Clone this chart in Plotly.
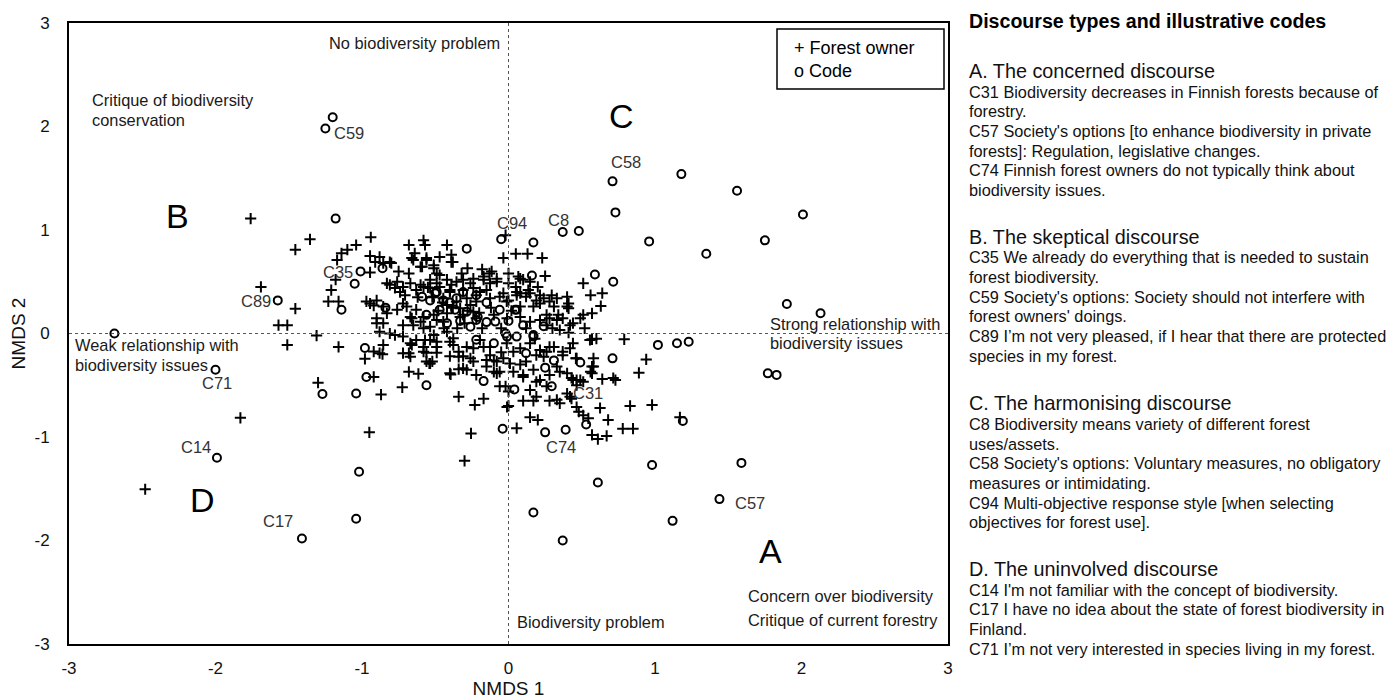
import plotly.graph_objects as go

# ---------------- data ----------------
axis_ticks = [-3, -2, -1, 0, 1, 2, 3]

# forest owners (+), NMDS1 / NMDS2
owners_periphery = [
    (-2.48, -1.505), (-1.83, -0.815), (-1.76, 1.11), (-1.69, 0.45), (-1.57, 0.08), (-1.51, 0.08),
    (-1.51, -0.11), (-1.455, 0.81), (-1.455, 0.24), (-1.355, 0.91), (-1.31, -0.02), (-1.30, -0.475),
    (-1.23, 0.31), (-1.16, 0.31), (-1.21, 0.42), (-1.18, 0.52), (-1.17, 0.71), (-1.14, 0.775),
    (-1.10, 0.81), (-1.04, 0.855), (-0.94, 0.93), (-1.16, -0.13), (-0.945, 0.75), (-0.88, 0.74),
    (-0.80, 0.68), (-0.945, 0.59), (-0.97, 0.31), (-0.945, 0.29), (-0.92, 0.27), (-0.95, -0.955),
    (-0.87, -0.59), (-0.98, -0.245), (-0.92, -0.175), (-0.86, -0.20), (-0.855, -0.11), (-0.92, -0.42),
    (-0.725, -0.52), (-0.68, -0.37), (-0.615, -0.39), (-0.54, -0.29), (-0.68, -0.19), (-0.56, -0.185),
    (-0.49, -0.185), (-0.66, -0.11), (-0.34, -0.61), (-0.23, -0.69), (-0.17, -0.63), (-0.256, -0.965),
    (-0.30, -1.23), (-0.395, -0.395), (-0.34, -0.345), (-0.285, -0.35), (-0.22, -0.40), (-0.34, -0.225),
    (-0.31, -0.22), (-0.26, -0.24), (-0.15, -0.256), (-0.10, -0.26), (-0.10, -0.37), (-0.06, -0.37),
    (-0.01, -0.71), (-0.02, 0.95),
    (0.05, 0.77), (0.13, 0.77), (0.23, 0.73), (-0.035, 0.73),
    (0.51, 0.485), (0.56, 0.37), (0.64, 0.39), (0.51, 0.18), (0.57, 0.195), (0.63, 0.265), (0.44, 0.10),
    (0.40, 0.355), (0.40, 0.26),
    (0.57, -0.056), (0.79, -0.056), (0.94, -0.25), (0.89, -0.38), (0.64, -0.44), (0.73, -0.45),
    (0.83, -0.70), (0.98, -0.69), (0.625, -0.72), (0.68, -0.835), (1.17, -0.81), (0.78, -0.92),
    (0.85, -0.92), (0.57, -0.98), (0.61, -1.02), (0.67, -0.99), (0.48, -0.755), (0.545, -0.82),
    (0.51, -0.79), (0.056, -0.915), (0.147, -0.81), (0.20, -0.835), (0.10, -0.65), (0.17, -0.65),
    (0.0, -0.70), (0.28, -0.65), (0.33, -0.64), (0.42, -0.61), (0.46, -0.24), (0.58, -0.24),
    (0.57, -0.32), (0.44, -0.45), (0.49, -0.45), (0.56, -0.37), (0.60, -0.05), (0.715, -0.43),
    (0.40, -0.58), (0.43, -0.63),
]

owners_core_upper = [
    (-0.68, 0.855), (-0.58, 0.90), (-0.57, 0.855), (-0.42, 0.855), (-0.64, 0.775), (-0.66, 0.73),
    (-0.56, 0.73), (-0.47, 0.74), (-0.39, 0.76), (-0.38, 0.69), (-0.59, 0.645), (-0.51, 0.63),
    (-0.49, 0.58), (-0.28, 0.63), (-0.17, 0.55), (-0.13, 0.58), (-0.115, 0.60), (-0.126, 0.485),
    (-0.08, 0.50), (0.0, 0.58), (0.0, 0.485), (0.067, 0.55), (0.10, 0.52), (0.25, 0.555),
    (0.295, 0.37), (0.33, 0.34), (0.41, 0.29), (0.215, 0.29), (0.147, 0.39), (0.08, 0.39),
    (-0.855, 0.68), (-0.81, 0.69), (-0.83, 0.485), (-0.76, 0.50), (-0.72, 0.45), (-0.67, 0.485),
    (-0.63, 0.42), (-0.58, 0.45), (-0.535, 0.52), (-0.49, 0.485), (-0.90, 0.32), (-0.855, 0.26),
    (-0.83, 0.195), (-0.76, 0.23), (-0.72, 0.29), (-0.67, 0.16), (-0.63, 0.23), (-0.535, 0.066),
    (-0.49, 0.13), (-0.855, 0.10), (-0.90, 0.10),
    (-0.91, 0.69), (-0.65, 0.71), (-0.60, 0.645), (-0.56, 0.71), (-0.51, 0.66), (-0.47, 0.565),
    (-0.39, 0.69), (-0.74, 0.40), (-0.706, 0.37), (-0.775, 0.44), (-0.81, 0.47), (-0.535, 0.44),
    (-0.42, 0.52), (-0.39, 0.47), (-0.355, 0.50), (-0.31, 0.52), (-0.26, 0.485), (-0.24, 0.44),
    (-0.695, 0.26), (-0.66, 0.147), (-0.65, 0.08), (-0.60, 0.114), (-0.58, 0.05), (-0.445, 0.114),
    (-0.42, 0.017), (-0.90, 0.147), (-0.88, 0.017), (-0.72, 0.08),
    (-0.445, 0.34), (-0.42, 0.275), (-0.40, 0.40), (-0.355, 0.31), (-0.33, 0.243), (-0.31, 0.18),
    (-0.285, 0.34), (-0.26, 0.275), (-0.24, 0.21), (-0.22, 0.31), (-0.195, 0.40),
    (-0.24, 0.53), (-0.17, 0.52), (-0.08, 0.53), (0.08, 0.53), (0.147, 0.50), (0.056, 0.40),
    (0.135, 0.42), (0.215, 0.37), (0.41, 0.243), (0.08, 0.26), (0.17, 0.26), (-0.012, 0.31),
    (-0.126, 0.34), (-0.035, 0.39), (0.26, 0.18), (0.28, 0.147), (0.34, 0.18), (0.37, 0.147),
    (0.42, 0.08), (0.49, 0.147), (0.52, 0.05),
    (-0.60, 0.47), (-0.55, 0.445), (-0.47, 0.45), (-0.40, 0.42), (-0.31, 0.42), (-0.22, 0.37),
    (-0.15, 0.42), (-0.06, 0.355), (0.0, 0.32), (0.056, 0.37), (0.12, 0.355), (0.19, 0.32),
    (0.24, 0.34), (0.28, 0.31), (0.31, 0.26),
    (-0.58, 0.16), (-0.51, 0.18), (-0.42, 0.195), (-0.33, 0.16), (-0.22, 0.147), (-0.10, 0.18),
    (-0.01, 0.147), (0.08, 0.16), (0.147, 0.114), (0.215, 0.13), (0.26, 0.08), (0.33, 0.13),
    (0.35, 0.034), (0.41, 0.008),
    (-0.45, 0.30), (-0.38, 0.25), (-0.30, 0.10), (-0.18, 0.05), (-0.05, 0.05), (-0.12, 0.25),
    (-0.35, 0.05), (-0.28, 0.22), (-0.48, 0.22), (-0.20, 0.20), (0.02, 0.22), (0.12, 0.05),
    (0.05, 0.45), (-0.62, 0.35), (-0.68, 0.58), (-0.75, 0.60), (-0.32, 0.58), (-0.18, 0.62),
    (0.20, 0.45), (0.30, 0.05), (-0.44, 0.05), (-0.52, 0.35),
]

owners_core_lower = [
    (-0.57, -0.063), (-0.49, -0.13), (-0.40, -0.08), (-0.285, -0.13), (-0.195, -0.063),
    (-0.126, -0.13), (-0.012, -0.095), (0.08, -0.143), (0.147, -0.095), (0.215, -0.16),
    (0.28, -0.13), (0.37, -0.176), (0.44, -0.095), (0.556, -0.063),
    (-0.535, -0.29), (-0.40, -0.385), (-0.31, -0.336), (-0.15, -0.32), (-0.08, -0.385),
    (0.01, -0.29), (0.08, -0.30), (0.10, -0.42), (0.17, -0.35), (0.215, -0.45), (0.24, -0.224),
    (0.33, -0.32), (0.40, -0.385), (0.43, -0.43), (0.465, -0.45), (0.51, -0.466), (0.57, -0.385),
    (0.58, -0.32), (-0.06, -0.51), (0.0, -0.56), (0.147, -0.546), (0.19, -0.61), (0.26, -0.51),
    (0.35, -0.675), (0.465, -0.71),
    (-0.81, 0.0), (-0.72, -0.03), (-0.67, -0.095), (-0.63, -0.063), (-0.58, -0.13),
    (-0.535, -0.063), (-0.67, -0.224), (-0.72, -0.19), (-0.51, -0.015), (-0.49, -0.08),
    (-0.377, -0.046), (-0.775, -0.015), (-0.88, -0.19), (-0.58, -0.176), (-0.56, -0.27),
    (-0.52, -0.27), (-0.377, -0.11), (-0.34, -0.176), (-0.24, -0.27),
    (-0.24, -0.143), (-0.17, -0.13), (-0.126, -0.21), (-0.08, -0.27), (-0.035, -0.24),
    (0.033, -0.176), (0.12, -0.27), (0.19, -0.21), (0.26, -0.176), (0.31, -0.13), (0.37, -0.21),
    (0.42, -0.143), (0.465, -0.24), (0.033, -0.37), (0.10, -0.40), (0.19, -0.466), (0.28, -0.40),
    (0.35, -0.37), (0.465, -0.50), (-0.02, -0.51), (-0.05, -0.18), (-0.40, -0.22), (0.18, -0.05),
]

# codes (o)
code_points = [
    (-1.20, 2.09), (-1.25, 1.98), (-1.18, 1.11), (-0.285, 0.82), (-1.01, 0.60), (-0.86, 0.63),
    (-1.05, 0.48), (-1.14, 0.23), (-1.575, 0.32), (-2.69, 0.0), (-0.05, 0.91),
    (0.71, 1.47), (1.18, 1.54), (1.56, 1.38), (2.01, 1.15), (0.73, 1.17), (0.37, 0.98), (0.48, 0.99),
    (0.96, 0.89), (1.35, 0.77), (1.75, 0.90), (0.17, 0.88), (0.16, 0.56), (0.59, 0.57), (0.715, 0.50),
    (1.90, 0.285), (2.13, 0.195), (1.02, -0.11), (1.15, -0.095), (1.23, -0.08), (0.71, -0.24),
    (1.77, -0.385), (1.83, -0.40), (1.19, -0.845), (1.59, -1.25), (0.98, -1.27), (0.61, -1.44),
    (1.44, -1.60), (1.12, -1.81), (0.17, -1.73), (0.37, -2.00), (0.25, -0.955), (0.39, -0.93),
    (0.53, -0.88), (-0.04, -0.92), (0.49, -0.28), (0.04, -0.54), (0.31, -0.26), (0.25, -0.33),
    (0.295, -0.51), (0.12, -0.19), (-2.0, -0.35), (-1.99, -1.20), (-1.41, -1.98), (-1.04, -1.79),
    (-1.02, -1.335), (-1.27, -0.585), (-1.04, -0.58), (-0.97, -0.42), (-0.98, -0.14), (-0.56, -0.50),
    (-0.17, -0.46), (-0.22, -0.06), (-0.10, -0.095), (0.24, 0.07), (0.17, -0.03), (0.056, -0.03),
    (-0.02, 0.0), (0.056, 0.23), (-0.06, 0.23), (-0.15, 0.11), (-0.59, 0.355), (-0.50, 0.39),
    (-0.445, 0.32), (-0.84, 0.25), (-0.535, 0.32), (-0.49, 0.40), (-0.56, 0.18), (-0.47, 0.23),
    (-0.365, 0.23), (-0.355, 0.34), (-0.31, 0.40), (-0.285, 0.21), (-0.26, 0.065), (-0.22, 0.13),
    (-0.22, 0.37), (-0.21, 0.16), (-0.09, 0.115), (0.045, 0.23), (-0.01, -0.03), (0.17, -0.015),
    (-0.40, 0.30), (-0.33, 0.12), (-0.15, 0.30), (-0.42, 0.10), (0.0, 0.12), (0.10, 0.08),
]

code_labels = ["C59", "C94", "C8", "C58", "C35", "C89", "C71", "C14", "C17", "C74", "C31", "C57"]

quadrant_letters = ["A", "B", "C", "D"]

panel_title = "Discourse types and illustrative codes"
panel_sections = [
    ("A. The concerned discourse", [
        "C31 Biodiversity decreases in Finnish forests because of",
        "forestry.",
        "C57 Society's options [to enhance biodiversity in private",
        "forests]: Regulation, legislative changes.",
        "C74 Finnish forest owners do not typically think about",
        "biodiversity issues.",
    ]),
    ("B. The skeptical discourse", [
        "C35 We already do everything that is needed to sustain",
        "forest biodiversity.",
        "C59 Society's options: Society should not interfere with",
        "forest owners' doings.",
        "C89 I\u2019m not very pleased, if I hear that there are protected",
        "species in my forest.",
    ]),
    ("C. The harmonising discourse", [
        "C8 Biodiversity means variety of different forest",
        "uses/assets.",
        "C58 Society's options: Voluntary measures, no obligatory",
        "measures or intimidating.",
        "C94 Multi-objective response style [when selecting",
        "objectives for forest use].",
    ]),
    ("D. The uninvolved discourse", [
        "C14 I'm not familiar with the concept of biodiversity.",
        "C17 I have no idea about the state of forest biodiversity in",
        "Finland.",
        "C71 I\u2019m not very interested in species living in my forest.",
    ]),
]

# ---------------- layout geometry (pixels) ----------------
W, H = 1389, 699
L, R, T, B = 69, 948, 23, 644
FONT = "Liberation Sans, Arial, sans-serif"


def px(x):
    return (x - L) / (R - L)


def py(y):
    return (B - y) / (B - T)


owners = owners_periphery + owners_core_upper + owners_core_lower
owner_x = [p[0] for p in owners]
owner_y = [p[1] for p in owners]
code_x = [p[0] for p in code_points]
code_y = [p[1] for p in code_points]

fig = go.Figure()
fig.add_trace(go.Scatter(
    x=owner_x, y=owner_y, mode="markers", name="Forest owner",
    marker=dict(symbol="cross-thin", size=8, color="black",
                line=dict(width=2, color="black")),
))
fig.add_trace(go.Scatter(
    x=code_x, y=code_y, mode="markers", name="Code",
    marker=dict(symbol="circle-open", size=8, color="black",
                line=dict(width=2, color="black")),
))

ann = []


def text(x, y, s, size=16, xanchor="left", color="#1a1a1a", bold=False, yanchor="middle"):
    ann.append(dict(
        x=px(x), y=py(y), xref="paper", yref="paper", text=("<b>%s</b>" % s) if bold else s,
        showarrow=False, xanchor=xanchor, yanchor=yanchor,
        font=dict(family=FONT, size=size, color=color),
    ))


# code labels (pixel positions of label centres)
label_pos = {
    "C59": (349, 133), "C94": (512, 223), "C8": (558.5, 220), "C58": (626, 162),
    "C35": (338, 272), "C89": (256, 301), "C71": (217, 383), "C14": (196, 447),
    "C17": (277.5, 521), "C74": (560.5, 447), "C31": (588, 393), "C57": (750, 503),
}
for lab in code_labels:
    x, y = label_pos[lab]
    text(x, y, lab, size=16.5, xanchor="center", color="#333333")

# quadrant letters
letter_pos = {"A": (770, 551), "B": (177.5, 215.5), "C": (621.5, 115.5), "D": (202, 500)}
for let in quadrant_letters:
    x, y = letter_pos[let]
    text(x, y, let, size=34, xanchor="center", color="black")

# interpretive annotations
text(502, 43, "No biodiversity problem", xanchor="right", size=16.4)
text(90, 100, "Critique of biodiversity", size=16.4)
text(90, 120, "conservation", size=16.4)
text(73, 345, "Weak relationship with", size=16.4)
text(73, 364.5, "biodiversity issues", size=16.4)
text(768, 323.5, "Strong relationship with", size=16.4)
text(768, 343, "biodiversity issues", size=16.4)
text(515, 622, "Biodiversity problem", size=16.4)
text(746, 596, "Concern over biodiversity", size=16.4)
text(746, 620, "Critique of current forestry", size=16.4)

# legend
text(791.5, 48.5, "+ Forest owner", size=18, color="black")
text(791.5, 71, "o Code", size=18, color="black")

# right panel
PX = 967
text(PX, 21.5, panel_title, size=19.6, color="black", bold=True)
head_y = [71, 236.7, 403.3, 569]
for (head, lines), hy in zip(panel_sections, head_y):
    text(PX, hy, head, size=19.8, color="#111111")
    for i, line in enumerate(lines):
        text(PX, hy + 20.7 + 19.65 * i, line, size=16.3, color="#111111")

shapes = [
    dict(type="line", xref="x", yref="paper", x0=0, x1=0, y0=0, y1=1,
         line=dict(color="#555555", width=1, dash="3px,3px")),
    dict(type="line", xref="paper", yref="y", x0=0, x1=1, y0=0, y1=0,
         line=dict(color="#555555", width=1, dash="3px,3px")),
    dict(type="rect", xref="paper", yref="paper", x0=px(777), x1=px(944), y0=py(89), y1=py(29),
         line=dict(color="black", width=1.5)),
]

axis_common = dict(
    range=[-3, 3], tickvals=axis_ticks, ticktext=[str(t) for t in axis_ticks],
    showgrid=False, zeroline=False, showline=True, linecolor="black", linewidth=2,
    mirror=True, ticks="", tickfont=dict(family=FONT, size=17, color="#111111"),
    fixedrange=True, automargin=False,
)

fig.update_layout(
    width=W, height=H, autosize=False,
    margin=dict(l=L, r=W - R, t=T, b=H - B, pad=0, autoexpand=False),
    paper_bgcolor="white", plot_bgcolor="white",
    showlegend=False,
    xaxis=dict(axis_common, ticklabelstandoff=8,
               title=dict(text="NMDS 1", font=dict(family=FONT, size=19, color="#111111"), standoff=6)),
    yaxis=dict(axis_common, ticklabelstandoff=14,
               title=dict(text="NMDS 2", font=dict(family=FONT, size=19, color="#111111"), standoff=4)),
    annotations=ann, shapes=shapes,
)

fig.write_html("out.html", config={"displayModeBar": False},
               post_script="document.body.style.margin='0px';")
